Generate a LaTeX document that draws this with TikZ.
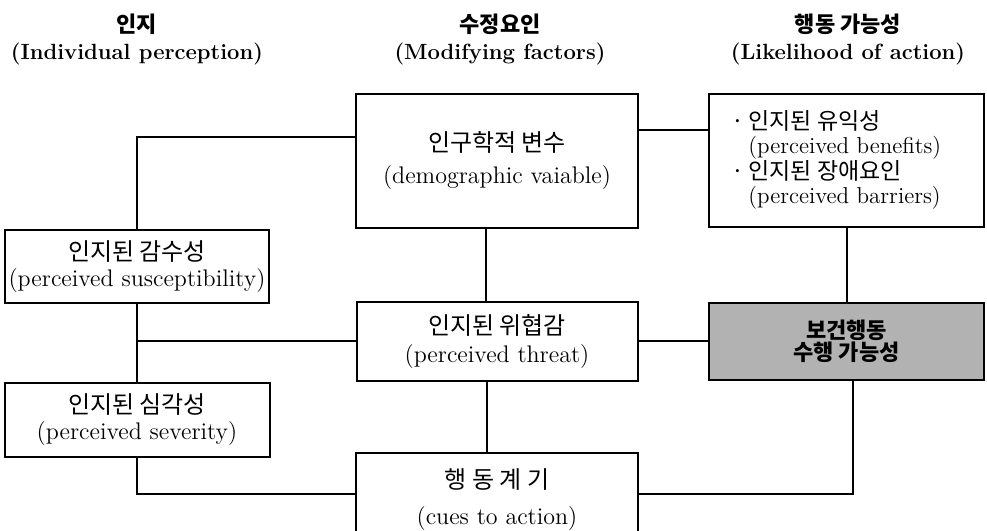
\documentclass[tikz,border=0pt]{standalone}
\usepackage{fontspec}
\newfontfamily\kr{Noto Sans CJK KR}

\begin{document}
\begin{tikzpicture}
  [x=0.5pt,y=-0.5pt,line width=1pt,
   every node/.style={draw,line width=1pt,inner sep=0pt,outer sep=0pt,align=center,font=\fontsize{12}{13}\selectfont},
   head/.style={draw=none,font=\fontsize{11}{13.5}\selectfont\bfseries},
   shade/.style={fill=black!30}]
  \useasboundingbox (0,0) rectangle (987,531);

  \node[head] (hPer) at (137,39) {{\kr 인지}\\(Individual perception)};
  \node[head] (hMod) at (500,39) {{\kr 수정요인}\\(Modifying factors)};
  \node[head] (hAct) at (848,39) {{\kr 행동 가능성}\\(Likelihood of action)};

  \node (susc) at (137,266.5) [minimum width=132pt,minimum height=36.5pt] {{\kr 인지된 감수성}\\(perceived susceptibility)};
  \node (sev) at (137,420) [minimum width=132.5pt,minimum height=37pt] {{\kr 인지된 심각성}\\(perceived severity)};
  \node (demo) at (497,161) [minimum width=141pt,minimum height=67pt] {{\kr 인구학적 변수}\\[3pt](demographic vaiable)};
  \node (threat) at (497,341) [minimum width=140.5pt,minimum height=39.5pt] {{\kr 인지된 위협감}\\[1pt](perceived threat)};
  \node (cues) at (497,499.5) [minimum width=141pt,minimum height=46.5pt] {{\kr 행 동 계 기}\\[5pt](cues to action)};
  \node (benef) at (846.5,160.5) [minimum width=137.5pt,minimum height=66.5pt,font=\fontsize{11.5}{11.5}\selectfont]
    {\begin{tabular}{@{}l@{\,}l@{}}
      {\kr ·}&{\kr 인지된 유익성}\\
      &(perceived benefits)\\
      {\kr ·}&{\kr 인지된 장애요인}\\
      &(perceived barriers)
    \end{tabular}\hspace*{10pt}};
  \node (health) at (846.5,341) [shade,minimum width=137.5pt,minimum height=38.5pt,font=\fontsize{11}{11}\selectfont\kr\bfseries] {보건행동\\수행 가능성};

  \foreach \from/\to in {susc.south/sev.north, threat.east/health.west, benef.south/health.north}
    \draw (\from) -- (\to);
  \draw ([xshift=-5.5pt]demo.south) -- ([xshift=-5.5pt]threat.north);
  \draw ([xshift=-5pt]threat.south) -- ([xshift=-5pt]cues.north);
  \draw ([yshift=12pt]demo.west) -| (susc.north);
  \draw ([yshift=15.5pt]demo.east) -- ([yshift=15.5pt]demo.east -| benef.west);
  \draw (threat.west) -- (threat.west -| susc.south);
  \draw (sev.south) |- ([yshift=3pt]cues.west);
  \draw ([xshift=3pt]health.south) |- ([yshift=3pt]cues.east);

\end{tikzpicture}
\end{document}
